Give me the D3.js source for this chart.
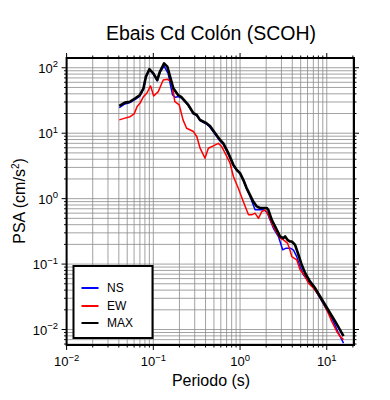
<!DOCTYPE html>
<html>
<head>
<meta charset="utf-8">
<script src="https://cdn.jsdelivr.net/npm/d3@7"></script>
<style>
  body { margin: 0; background: #fff; }
  svg text { font-family: "Liberation Sans", Arial, Helvetica, sans-serif; fill: #000; }
</style>
</head>
<body>
<svg id="chart" width="390" height="400"></svg>
<script>
// values (period in s, PSA in cm/s^2)
var periodNS = [0.0405,0.047,0.054,0.062,0.070,0.077,0.082,0.090,0.100,0.111,0.119,0.133,0.148,0.159,0.167,0.178,0.193,0.211,0.253,0.290,0.317,0.345,0.41,0.45,0.588,0.641,0.733,0.838,0.916,1.0,1.09,1.19,1.30,1.42,1.49,1.85,2.03,2.22,2.42,2.77,3.10,3.40,3.78,4.12,4.5,4.92,5.37,6.42,7.33,8.37,10,11.9,13.6,15.6];
var psaNS    = [24.5,28,29.5,33,37,47,71,93,80,63,84,106,82,51.5,38.4,35.5,36.2,34.5,26.5,19.8,18.6,15.6,13.8,12.3,7.6,6.8,4.8,3.2,2.7,2.4,1.9,1.42,1.1,0.80,0.675,0.675,0.635,0.474,0.355,0.264,0.165,0.175,0.175,0.165,0.13,0.092,0.0687,0.051,0.0405,0.0303,0.020,0.0133,0.00886,0.0062];

var periodEW = [0.0405,0.047,0.054,0.060,0.065,0.070,0.077,0.084,0.093,0.101,0.114,0.130,0.145,0.162,0.177,0.199,0.22,0.242,0.29,0.317,0.346,0.394,0.431,0.492,0.562,0.615,0.672,0.767,0.838,0.955,1.09,1.25,1.36,1.49,1.63,1.78,1.94,2.12,2.32,2.54,2.89,3.16,3.52,3.71,3.95,4.5,4.92,5.62,6.14,7.0,8.0,9.14,10,11.4,13.0,14.2,15.6];
var psaEW    = [16,17,17.9,19.7,25.5,28.6,36.2,40.8,52.7,37,43.2,65,66.7,61.4,30.3,27,16,11.9,10.6,8.9,5.9,4.15,5.9,6.4,7.0,6.25,4.95,3.48,2.18,1.445,0.903,0.566,0.566,0.60,0.50,0.635,0.675,0.566,0.42,0.334,0.249,0.235,0.209,0.175,0.13,0.116,0.082,0.065,0.051,0.043,0.034,0.0254,0.020,0.0133,0.0094,0.0079,0.0070];

var periodMAX = [0.0405,0.047,0.054,0.062,0.070,0.077,0.082,0.090,0.100,0.111,0.119,0.133,0.145,0.156,0.170,0.193,0.211,0.253,0.290,0.317,0.345,0.41,0.45,0.588,0.641,0.733,0.838,0.916,1.0,1.09,1.19,1.30,1.42,1.56,1.70,1.85,2.03,2.12,2.32,2.54,2.77,2.89,3.16,3.31,3.52,3.78,3.95,4.31,4.71,5.14,5.62,6.42,7.33,8.37,9.55,10.9,12.5,14.2,15.6];
var psaMAX    = [26.1,29.3,30.3,34.2,38.4,48.6,73,95,82,65,87,117,104,73,48.6,38.4,35.5,27,20.2,19,16,14.2,12.9,7.9,7.0,4.95,3.28,2.75,2.45,1.94,1.45,1.14,0.90,0.76,0.72,0.72,0.72,0.675,0.474,0.375,0.297,0.264,0.249,0.264,0.235,0.221,0.221,0.197,0.139,0.0975,0.073,0.054,0.043,0.032,0.0239,0.0179,0.0133,0.0099,0.0079];

var seriesNames  = ["NS", "EW", "MAX"];
var seriesColors = ["#0000ff", "#ff0000", "#000000"];
var xDecades = [0.01, 0.1, 1, 10];
var yDecades = [0.01, 0.1, 1, 10, 100];

var svg = d3.select("#chart");
var box = { left: 66.6, right: 354, top: 58, bottom: 345 };

var x = d3.scaleLog().domain([0.01, 20.6]).range([box.left, box.right]);
var y = d3.scaleLog().domain([0.0058, 141]).range([box.bottom, box.top]);

// every 1..9 multiple inside the domain, for grid and minor ticks
var minorX = x.ticks().filter(function(d) { return d >= 0.01 && d <= 20.6; });
var minorY = y.ticks().filter(function(d) { return d >= 0.0058 && d <= 141; });

var grid = svg.append("g").attr("stroke", "#8a8a8a").attr("stroke-width", 0.8);
grid.selectAll("line.gx").data(minorX).enter().append("line")
  .attr("x1", function(d) { return x(d); }).attr("x2", function(d) { return x(d); })
  .attr("y1", box.top).attr("y2", box.bottom);
grid.selectAll("line.gy").data(minorY).enter().append("line")
  .attr("y1", function(d) { return y(d); }).attr("y2", function(d) { return y(d); })
  .attr("x1", box.left).attr("x2", box.right);

var isMajor = function(d) { return Math.abs(Math.log10(d) - Math.round(Math.log10(d))) < 1e-6; };

// ticks on all four sides, pointing out
var ticks = svg.append("g").attr("stroke", "#000").attr("stroke-width", 1);
minorX.forEach(function(d) {
  var len = isMajor(d) ? 5 : 2.5;
  ticks.append("line").attr("x1", x(d)).attr("x2", x(d)).attr("y1", box.bottom).attr("y2", box.bottom + len);
  ticks.append("line").attr("x1", x(d)).attr("x2", x(d)).attr("y1", box.top).attr("y2", box.top - len);
});
minorY.forEach(function(d) {
  var len = isMajor(d) ? 5 : 2.5;
  ticks.append("line").attr("y1", y(d)).attr("y2", y(d)).attr("x1", box.left).attr("x2", box.left - len);
  ticks.append("line").attr("y1", y(d)).attr("y2", y(d)).attr("x1", box.right).attr("x2", box.right + len);
});

var powerLabel = function(sel, d) {
  var e = Math.round(Math.log10(d));
  sel.append("tspan").text("10");
  sel.append("tspan").attr("dy", -5.5).attr("font-size", 9.5).text(e < 0 ? "\u2212" + (-e) : e);
};

xDecades.forEach(function(d) {
  var t = svg.append("text").attr("x", x(d)).attr("y", 366).attr("text-anchor", "middle").attr("font-size", 13);
  powerLabel(t, d);
});
yDecades.forEach(function(d) {
  var t = svg.append("text").attr("x", 58).attr("y", y(d) + 5).attr("text-anchor", "end").attr("font-size", 13);
  powerLabel(t, d);
});

// curves
var line = d3.line()
  .x(function(p) { return x(p[0]); })
  .y(function(p) { return y(p[1]); });

var curves = [
  { name: "NS", data: d3.zip(periodNS, psaNS), color: seriesColors[0], width: 1.5 },
  { name: "EW", data: d3.zip(periodEW, psaEW), color: seriesColors[1], width: 1.5 },
  { name: "MAX", data: d3.zip(periodMAX, psaMAX), color: seriesColors[2], width: 2.6 }
];
svg.append("g").selectAll("path.curve").data(curves).enter().append("path")
  .attr("fill", "none")
  .attr("stroke", function(c) { return c.color; })
  .attr("stroke-width", function(c) { return c.width; })
  .attr("stroke-linejoin", "round")
  .attr("d", function(c) { return line(c.data); });

// frame
svg.append("rect")
  .attr("x", box.left).attr("y", box.top)
  .attr("width", box.right - box.left).attr("height", box.bottom - box.top)
  .attr("fill", "none").attr("stroke", "#000").attr("stroke-width", 2);

// legend
var lg = svg.append("g");
lg.append("rect").attr("x", 73.5).attr("y", 266).attr("width", 79).attr("height", 72)
  .attr("fill", "#fff").attr("stroke", "#000").attr("stroke-width", 2);
var legendY = [288, 306, 323];
seriesNames.forEach(function(n, i) {
  lg.append("line").attr("x1", 81.5).attr("x2", 98.5).attr("y1", legendY[i]).attr("y2", legendY[i])
    .attr("stroke", seriesColors[i]).attr("stroke-width", 2);
  lg.append("text").attr("x", 107).attr("y", legendY[i] + 4).attr("font-size", 12).text(n);
});

// titles
svg.append("text").attr("x", 211).attr("y", 40).attr("text-anchor", "middle")
  .attr("font-size", 19.5).text("Ebais Cd Colón (SCOH)");
svg.append("text").attr("x", 211).attr("y", 386).attr("text-anchor", "middle")
  .attr("font-size", 16).text("Periodo (s)");
var yl = svg.append("text").attr("transform", "translate(25,201) rotate(-90)")
  .attr("text-anchor", "middle").attr("font-size", 16);
yl.append("tspan").text("PSA (cm/s");
yl.append("tspan").attr("dy", -6).attr("font-size", 10).text("2");
yl.append("tspan").attr("dy", 6).text(")");
</script>
</body>
</html>
